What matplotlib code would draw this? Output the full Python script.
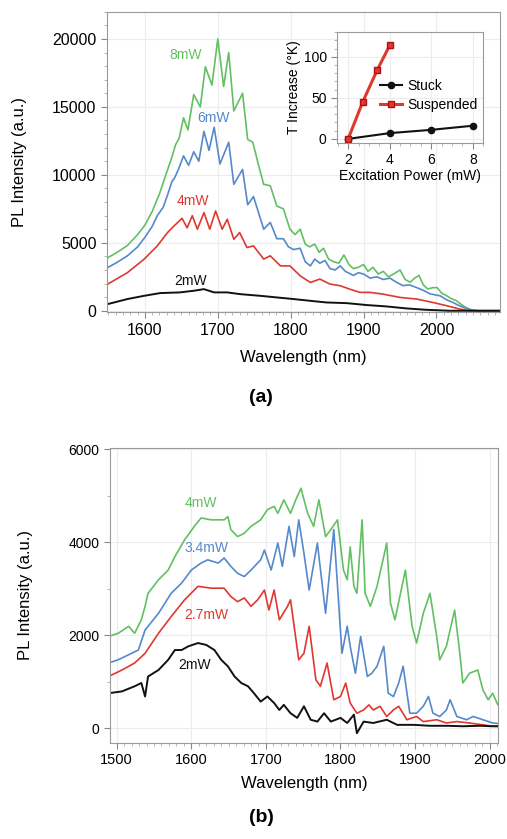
import matplotlib
matplotlib.use('Agg')
from matplotlib import pyplot as plt
from matplotlib.ticker import MultipleLocator

plt.rcParams['font.family'] = ['Liberation Sans', 'DejaVu Sans']

# colours of the traces
GREEN = '#62c062'
BLUE = '#5589cc'
RED = '#e0382e'
BLACK = '#111111'

# ---- panel (a): PL spectra at 2, 4, 6, 8 mW ----
a_green_x = [1549, 1562, 1576, 1590, 1600, 1610, 1620, 1630, 1637, 1642, 1647, 1653, 1659, 1667, 1676,
             1683, 1692, 1700, 1708, 1715, 1722, 1734, 1741, 1748, 1756, 1763, 1772, 1781, 1790, 1799,
             1806, 1813, 1820, 1826, 1833, 1839, 1845, 1852, 1859, 1866, 1873, 1880, 1886, 1893, 1900,
             1906, 1913, 1920, 1927, 1934, 1941, 1950, 1957, 1964, 1970, 1976, 1982, 1988, 1995, 2001,
             2007, 2014, 2020, 2027, 2033, 2040, 2047, 2055, 2070, 2087]
a_green_y = [3900, 4300, 4800, 5600, 6300, 7300, 8600, 10200, 11300, 12200, 12700, 14200, 13300, 15900, 15000,
             17950, 16600, 20000, 16500, 19000, 14700, 16000, 12600, 12400, 10700, 9300, 9200, 7700, 7500, 6000,
             5600, 6000, 4900, 4700, 4900, 4300, 4600, 3800, 3600, 3500, 4100, 3400, 3100, 3200, 3400,
             2900, 3200, 2700, 2900, 2500, 2700, 3000, 2300, 2100, 2400, 2600, 1900, 1600, 1700, 1700,
             1300, 1100, 900, 750, 500, 250, 80, 0, 0, 0]

a_blue_x = [1549, 1560, 1576, 1590, 1600, 1610, 1617, 1625, 1631, 1637, 1641, 1646, 1653, 1660, 1667,
            1674, 1681, 1688, 1695, 1703, 1715, 1722, 1734, 1741, 1749, 1756, 1763, 1772, 1781, 1790,
            1797, 1804, 1813, 1820, 1827, 1833, 1840, 1847, 1854, 1861, 1868, 1875, 1886, 1893, 1900,
            1909, 1918, 1927, 1936, 1945, 1954, 1963, 1973, 1982, 1991, 2000, 2005, 2014, 2023, 2030,
            2037, 2045, 2050, 2060, 2087]
a_blue_y = [3180, 3500, 4040, 4700, 5400, 6200, 7000, 7600, 8500, 9500, 9800, 10400, 11400, 10700, 11700,
            11000, 13200, 11800, 13500, 10800, 12400, 9300, 10400, 7800, 8400, 7200, 6000, 6500, 5300, 5300,
            4700, 4500, 4600, 3600, 3300, 3800, 3500, 3700, 3100, 3000, 3300, 2900, 2600, 2800, 2700,
            2400, 2500, 2300, 2400, 2100, 1850, 1900, 1700, 1500, 1250, 1150, 1100, 800, 600, 400,
            250, 100, 40, 0, 0]

a_red_x = [1549, 1576, 1599, 1617, 1631, 1640, 1651, 1658, 1665, 1672, 1681, 1689, 1697, 1706, 1713,
           1722, 1730, 1740, 1749, 1763, 1772, 1786, 1799, 1813, 1827, 1840, 1854, 1868, 1881, 1895,
           1909, 1927, 1950, 1973, 1995, 2014, 2032, 2046, 2087]
a_red_y = [1960, 2800, 3800, 4770, 5750, 6240, 6800, 6100, 7000, 6000, 7220, 6000, 7340, 6000, 6730,
           5260, 5750, 4650, 4770, 3800, 4040, 3300, 3300, 2570, 2080, 2330, 1960, 1840, 1590, 1350,
           1350, 1220, 980, 860, 610, 370, 120, 0, 0]

a_black_x = [1549, 1576, 1599, 1621, 1648, 1667, 1681, 1695, 1713, 1731, 1758, 1781, 1804, 1827, 1849,
             1877, 1904, 1931, 1959, 1986, 2018, 2087]
a_black_y = [490, 860, 1100, 1300, 1350, 1470, 1590, 1350, 1350, 1220, 1100, 980, 860, 730, 610,
             560, 420, 320, 170, 70, 0, 0]

a_labels = ['8mW', '6mW', '4mW', '2mW']
a_label_x = [1656, 1694, 1666, 1662]
a_label_y = [18850, 14200, 8080, 2200]

# ---- inset: temperature increase vs excitation power ----
stuck_p = [2, 4, 6, 8]
stuck_t = [0, 7, 11, 16]
susp_p = [2, 2.7, 3.4, 4]
susp_t = [0, 45, 84, 114]

# ---- panel (b): PL spectra at 2, 2.7, 3.4, 4 mW ----
b_green_x = [1489, 1502, 1516, 1524, 1533, 1538, 1542, 1556, 1569, 1578, 1591, 1604, 1613, 1627, 1644,
             1649, 1653, 1662, 1671, 1680, 1693, 1702, 1711, 1716, 1724, 1733, 1740, 1747, 1756, 1764,
             1771, 1780, 1787, 1796, 1804, 1809, 1813, 1818, 1822, 1829, 1833, 1840, 1849, 1862, 1867,
             1873, 1887, 1896, 1902, 1911, 1920, 1929, 1933, 1942, 1953, 1960, 1964, 1973, 1984, 1991,
             1998, 2004, 2011]
b_green_y = [1970, 2040, 2190, 2040, 2330, 2620, 2900, 3190, 3400, 3690, 4050, 4340, 4520, 4480, 4480,
             4550, 4270, 4120, 4190, 4340, 4480, 4700, 4770, 4620, 4910, 4620, 4910, 5160, 4620, 4340,
             4910, 4120, 4270, 4480, 3400, 3190, 3900, 3050, 2900, 4480, 2900, 2620, 3050, 3980, 2690,
             2330, 3400, 2190, 1830, 2470, 2900, 1970, 1470, 1760, 2540, 1610, 970, 1180, 1250, 820,
             610, 750, 500]

b_blue_x = [1489, 1502, 1520, 1529, 1538, 1556, 1573, 1587, 1600, 1613, 1622, 1636, 1644, 1653, 1662,
            1671, 1680, 1693, 1698, 1707, 1716, 1722, 1731, 1738, 1744, 1751, 1758, 1769, 1780, 1791,
            1802, 1809, 1813, 1820, 1827, 1836, 1842, 1849, 1858, 1864, 1871, 1878, 1884, 1893, 1902,
            1911, 1918, 1924, 1933, 1942, 1947, 1956, 1969, 1978, 1991, 2004, 2011]
b_blue_y = [1400, 1470, 1610, 1680, 2110, 2470, 2900, 3120, 3400, 3550, 3620, 3550, 3660, 3480, 3330,
            3260, 3400, 3620, 3830, 3400, 3980, 3480, 4340, 3690, 4480, 3760, 2970, 3980, 2470, 4270,
            1610, 2190, 1760, 1180, 1970, 1110, 1180, 1330, 1760, 750, 680, 970, 1330, 320, 320,
            470, 680, 320, 250, 390, 610, 250, 180, 250, 180, 110, 100]

b_red_x = [1489, 1507, 1524, 1538, 1556, 1573, 1591, 1609, 1627, 1644, 1653, 1662, 1671, 1680, 1689,
           1698, 1704, 1711, 1718, 1729, 1733, 1744, 1751, 1758, 1767, 1773, 1782, 1791, 1800, 1807,
           1813, 1822, 1831, 1838, 1844, 1853, 1862, 1871, 1878, 1889, 1902, 1911, 1929, 1942, 1956,
           1973, 1991, 2004, 2011]
b_red_y = [1110, 1250, 1400, 1610, 2040, 2400, 2760, 3050, 3010, 3010, 2830, 2720, 2800, 2620, 2760,
           2970, 2540, 2970, 2330, 2620, 2760, 1470, 1610, 2190, 1040, 900, 1400, 610, 680, 970,
           540, 320, 390, 500, 390, 470, 250, 390, 470, 180, 250, 140, 180, 110, 140,
           110, 70, 40, 40]

b_black_x = [1489, 1507, 1524, 1533, 1538, 1542, 1556, 1569, 1578, 1587, 1596, 1609, 1620, 1631, 1640,
             1649, 1658, 1667, 1676, 1684, 1693, 1702, 1711, 1718, 1724, 1733, 1742, 1751, 1760, 1769,
             1778, 1787, 1800, 1809, 1818, 1822, 1831, 1844, 1862, 1876, 1898, 1920, 1942, 1964, 1987,
             2004, 2011]
b_black_y = [750, 790, 900, 970, 680, 1110, 1250, 1470, 1680, 1680, 1760, 1830, 1790, 1680, 1470,
             1330, 1110, 970, 900, 750, 570, 680, 540, 390, 500, 320, 220, 470, 180, 140,
             320, 140, 220, 110, 290, -110, 140, 110, 180, 70, 70, 50, 50, 40, 50,
             40, 40]

b_labels = ['4mW', '3.4mW', '2.7mW', '2mW']
b_label_x = [1613, 1620, 1620, 1604]
b_label_y = [4840, 3870, 2440, 1360]


def style_axes(ax, tick_size):
    for s in ax.spines.values():
        s.set_color('#9a9a9a')
        s.set_linewidth(0.8)
    ax.grid(True, color='#ececec', linewidth=0.8)
    ax.set_axisbelow(True)
    ax.tick_params(which='major', direction='out', length=4, color='#888888', labelsize=tick_size)
    ax.tick_params(which='minor', direction='out', length=2, color='#aaaaaa')


fig = plt.figure(figsize=(5.07, 8.39), dpi=100)

# panel (a)
ax1 = fig.add_axes([0.211, 0.628, 0.775, 0.358])
ax1.plot(a_green_x, a_green_y, color=GREEN, lw=1.2)
ax1.plot(a_blue_x, a_blue_y, color=BLUE, lw=1.2)
ax1.plot(a_red_x, a_red_y, color=RED, lw=1.2)
ax1.plot(a_black_x, a_black_y, color=BLACK, lw=1.4)
for lab, x, y, c in zip(a_labels, a_label_x, a_label_y, [GREEN, BLUE, RED, BLACK]):
    ax1.text(x, y, lab, color=c, fontsize=10, ha='center', va='center')
ax1.set_xlim(1548, 2087)
ax1.set_ylim(-100, 22000)
ax1.xaxis.set_major_locator(MultipleLocator(100))
ax1.xaxis.set_minor_locator(MultipleLocator(10))
ax1.yaxis.set_major_locator(MultipleLocator(5000))
ax1.yaxis.set_minor_locator(MultipleLocator(1000))
style_axes(ax1, 11.5)
ax1.set_xlabel('Wavelength (nm)', fontsize=12)
ax1.set_ylabel('PL Intensity (a.u.)', fontsize=12)
ax1.xaxis.set_label_coords(0.5, -0.125)
ax1.yaxis.set_label_coords(-0.204, 0.5)

# inset
ax_in = fig.add_axes([0.665, 0.8296, 0.288, 0.132])
ax_in.plot(stuck_p, stuck_t, color=BLACK, lw=1.5, marker='o', ms=4.5, label='Stuck')
ax_in.plot(susp_p, susp_t, color=RED, lw=2.2, marker='s', ms=5, mec='#b01010', label='Suspended')
ax_in.set_xlim(1.47, 8.5)
ax_in.set_ylim(-5, 130)
ax_in.xaxis.set_major_locator(MultipleLocator(2))
ax_in.xaxis.set_minor_locator(MultipleLocator(0.5))
ax_in.yaxis.set_major_locator(MultipleLocator(50))
ax_in.yaxis.set_minor_locator(MultipleLocator(10))
style_axes(ax_in, 10)
ax_in.set_xlabel('Excitation Power (mW)', fontsize=10, labelpad=1)
ax_in.set_ylabel('T Increase (°K)', fontsize=10, labelpad=2)
ax_in.legend(loc='center right', bbox_to_anchor=(1.0, 0.43), frameon=False, fontsize=10,
             handlelength=1.6, handletextpad=0.4, borderaxespad=0, labelspacing=0.35)

fig.text(0.515, 0.526, '(a)', fontsize=14, fontweight='bold', ha='center', va='center')

# panel (b)
ax2 = fig.add_axes([0.217, 0.115, 0.765, 0.3507])
ax2.plot(b_green_x, b_green_y, color=GREEN, lw=1.2)
ax2.plot(b_blue_x, b_blue_y, color=BLUE, lw=1.2)
ax2.plot(b_red_x, b_red_y, color=RED, lw=1.2)
ax2.plot(b_black_x, b_black_y, color=BLACK, lw=1.4)
for lab, x, y, c in zip(b_labels, b_label_x, b_label_y, [GREEN, BLUE, RED, BLACK]):
    ax2.text(x, y, lab, color=c, fontsize=10, ha='center', va='center')
ax2.set_xlim(1491, 2011)
ax2.set_ylim(-310, 6020)
ax2.xaxis.set_major_locator(MultipleLocator(100))
ax2.xaxis.set_minor_locator(MultipleLocator(10))
ax2.yaxis.set_major_locator(MultipleLocator(2000))
ax2.yaxis.set_minor_locator(MultipleLocator(1000))
style_axes(ax2, 10.5)
ax2.tick_params(axis='y', labelsize=10)
ax2.set_xlabel('Wavelength (nm)', fontsize=12)
ax2.set_ylabel('PL Intensity (a.u.)', fontsize=12)
ax2.xaxis.set_label_coords(0.5, -0.115)
ax2.yaxis.set_label_coords(-0.198, 0.5)

fig.text(0.515, 0.026, '(b)', fontsize=14, fontweight='bold', ha='center', va='center')

fig.savefig('out.png', dpi=100)
